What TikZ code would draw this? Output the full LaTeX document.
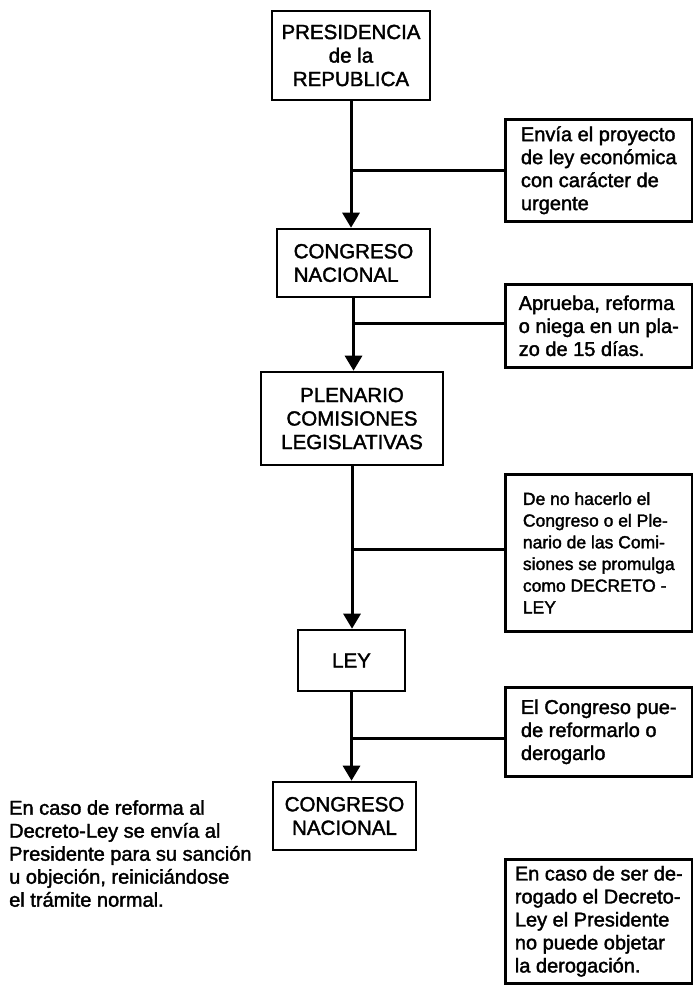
\documentclass[tikz,border=0pt]{standalone}
\usepackage{fontspec}
\setmainfont[FakeBold=1.8]{Liberation Sans}
\usetikzlibrary{positioning,arrows.meta}
\tikzset{
    caja/.style={draw, rectangle, line width=2.6pt, inner sep=0pt, align=center,
        font=\fontsize{20.5}{23.5}\selectfont},
    nota/.style={draw, rectangle, line width=2.6pt, anchor=north west, inner xsep=8pt,
        inner ysep=0pt, minimum width=187pt, align=left, font=\fontsize{20}{23}\selectfont},
    flecha/.style={line width=3pt, -{Triangle[width=17pt,length=15pt]}},
    rama/.style={line width=2.8pt}
}

\begin{document}
\begin{tikzpicture}[x=1pt, y=-1pt]
    \useasboundingbox (0,0) rectangle (693,993);

    % columna central
    \node[caja, minimum width=158pt, minimum height=89pt] (pres) at (351,55.5) {PRESIDENCIA\\de la\\REPUBLICA};
    \node[caja, align=left, minimum width=153pt, minimum height=68pt] (cong1) at (353.5,263) {CONGRESO\\NACIONAL};
    \node[caja, minimum width=182pt, minimum height=93pt] (plen) at (352,418.5) {PLENARIO\\COMISIONES\\LEGISLATIVAS};
    \node[caja, minimum width=107pt, minimum height=61pt] (ley) at (351.5,660.5) {LEY};
    \node[caja, minimum width=143pt, minimum height=68pt] (cong2) at (344.5,816) {CONGRESO\\NACIONAL};

    % notas a la derecha
    \node[nota, minimum height=102pt] (envia) at (504,118) {Envía el proyecto\\de ley económica\\con carácter de\\urgente};
    \node[nota, minimum height=83pt] (aprueba) at (504,283) {Aprueba, reforma\\o niega en un pla-\\zo de 15 días.};
    \node[nota, minimum height=157pt, font=\fontsize{17.5}{21.7}\selectfont] (decreto) at (504,473) {De no hacerlo el\\Congreso o el Ple-\\nario de las Comi-\\siones se promulga\\como DECRETO -\\LEY};
    \node[nota, minimum height=89pt] (reforma) at (504,686) {El Congreso pue-\\de reformarlo o\\derogarlo};
    \node[nota, minimum height=124pt] (derogado) at (504,858) {En caso de ser de-\\rogado el Decreto-\\Ley el Presidente\\no puede objetar\\la derogación.};

    \node[anchor=north west, inner sep=0pt, align=left, font=\fontsize{20}{23}\selectfont] (caso) at (9,800)
        {En caso de reforma al\\Decreto-Ley se envía al\\Presidente para su sanción\\u objeción, reiniciándose\\el trámite normal.};

    % flechas
    \draw[flecha] (pres.south) -- (pres.south |- cong1.north);
    \draw[flecha] (cong1.south) -- (cong1.south |- plen.north);
    \draw[flecha] (plen.south) -- (plen.south |- ley.north);
    \draw[flecha] (ley.south) -- (ley.south |- cong2.north);

    \draw[rama] (envia.west) -- (envia.west -| pres.south);
    \draw[rama] ([yshift=2.5pt]aprueba.west) -- ([yshift=2.5pt]aprueba.west -| cong1.south);
    \draw[rama] ([yshift=3.5pt]decreto.west) -- ([yshift=3.5pt]decreto.west -| plen.south);
    \draw[rama] ([yshift=-6.5pt]reforma.west) -- ([yshift=-6.5pt]reforma.west -| ley.south);
\end{tikzpicture}
\end{document}
